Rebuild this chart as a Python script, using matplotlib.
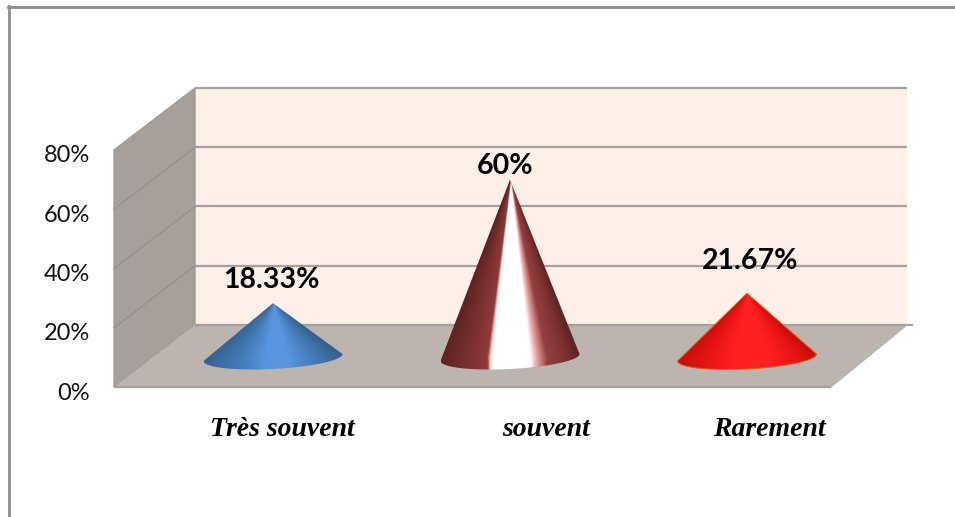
import numpy as np
import matplotlib
matplotlib.use("Agg")
import matplotlib.pyplot as plt
from matplotlib.colors import LinearSegmentedColormap
from matplotlib.patches import PathPatch, Polygon
from matplotlib.path import Path

# ---- chart content ----
categories = ["Très souvent", "souvent", "Rarement"]
values = [18.33, 60, 21.67]
value_labels = ["18.33%", "60%", "21.67%"]
y_ticks = [0, 20, 40, 60, 80]
y_tick_labels = ["0%", "20%", "40%", "60%", "80%"]

W, H = 955, 517
DPI = 100
fig = plt.figure(figsize=(W / DPI, H / DPI), dpi=DPI, facecolor="white")

# Front plane of the 3D box, in pixels
LEFT, RIGHT, BASE, TOP = 114, 831, 387, 150
ax = fig.add_axes([LEFT / W, 1 - BASE / H, (RIGHT - LEFT) / W, (BASE - TOP) / H])
PX_PER_CAT = 237.0
PX_PER_PCT = (BASE - TOP) / 80.0
x0 = -(272 - 40 - LEFT) / PX_PER_CAT
ax.set_xlim(x0, x0 + (RIGHT - LEFT) / PX_PER_CAT)
ax.set_ylim(0, 80)
ax.axis("off")

dx_left = 81 / PX_PER_CAT    # box depth at the left side
dx_right = 76 / PX_PER_CAT   # box depth at the right side
dy_full = 62 / PX_PER_PCT    # box depth, vertical
xl, xr = ax.get_xlim()
xb_l, xb_r = xl + dx_left, xr + dx_right

WALL = "#a79f9a"
FLOOR = "#bdb3af"
BACK = "#feefe7"
GRID = "#a3a09e"

# Back wall, side wall, floor
ax.add_patch(Polygon([(xb_l, dy_full), (xb_r, dy_full), (xb_r, 80 + dy_full), (xb_l, 80 + dy_full)],
                     fc=BACK, ec="none", clip_on=False, zorder=1))
ax.add_patch(Polygon([(xl, 0), (xb_l, dy_full), (xb_l, 80 + dy_full), (xl, 80)],
                     fc=WALL, ec="#a09c99", lw=1.0, clip_on=False, zorder=2))
ax.add_patch(Polygon([(xl, 0), (xr, 0), (xb_r, dy_full), (xb_l, dy_full)],
                     fc=FLOOR, ec="none", clip_on=False, zorder=2))

# Gridlines run along the back wall and slant down the side wall
for t in y_ticks:
    ax.plot([xb_l, xb_r + (6 / PX_PER_CAT if t == 0 else 0)],
            [t + dy_full] * 2, color=GRID, lw=1.6, clip_on=False, zorder=3, solid_capstyle="butt")
    if 0 < t < 80:
        ax.plot([xl, xb_l], [t, t + dy_full], color="#94908d", lw=0.9,
                clip_on=False, zorder=3)
ax.plot([xl, xr], [0, 0], color=GRID, lw=1.6, clip_on=False, zorder=3, solid_capstyle="butt")
ax.plot([xr, xb_r], [0, dy_full], color="#b5b5b5", lw=0.9, clip_on=False, zorder=3)

# Cone shading stops across the cone, from its left edge to its right edge
ramps = [
    [(0, "#34618f"), (0.25, "#4379b5"), (0.45, "#5896de"), (0.6, "#5896de"), (0.8, "#4379b5"), (1, "#34618f")],
    [(0, "#5c2222"), (0.2, "#7c3030"), (0.33, "#8f3a3a"), (0.35, "#f0c4c4"), (0.37, "#ffffff"),
     (0.64, "#ffffff"), (0.68, "#eeaaaa"), (0.76, "#93403f"), (0.9, "#7c3030"), (1, "#5c2222")],
    [(0, "#c80c0c"), (0.2, "#e81414"), (0.4, "#ff2020"), (0.65, "#ff2020"), (0.85, "#e81414"), (1, "#c80c0c")],
]
outlines = ["none", "none", "#d8641c"]

half_width = 69.5 / PX_PER_CAT
semi_minor = 11.5 / PX_PER_PCT
tilt = 3.5 / PX_PER_PCT      # base ellipse leans up to the right
depth_x = 41 / PX_PER_CAT
depth_y = 29.5 / PX_PER_PCT

for i, (value, ramp, outline) in enumerate(zip(values, ramps, outlines)):
    cx = i + depth_x
    base = depth_y
    tip = base + value
    theta = np.linspace(0, np.pi, 60)
    ell_x = cx - half_width * np.cos(theta)
    ell_y = base - semi_minor * np.sin(theta) + tilt * (ell_x - cx) / half_width
    verts = np.column_stack([np.r_[ell_x, cx, ell_x[0]], np.r_[ell_y, tip, ell_y[0]]])
    clip = PathPatch(Path(verts), transform=ax.transData, fc="none", ec=outline, lw=0.7, zorder=5)
    ax.add_patch(clip)

    # Shading bands converge on the tip of the cone
    y_lo = base - semi_minor - tilt
    xs = np.linspace(-1, 1, 400)
    ys = np.linspace(y_lo, tip, 400)
    gx, gy = np.meshgrid(xs, ys)
    frac = np.clip((tip - gy) / value, 0.004, 1.0)
    shade = np.clip((gx / frac + 1) / 2, 0, 1)
    cmap = LinearSegmentedColormap.from_list(f"cone{i}", ramp)
    im = ax.imshow(shade, cmap=cmap, vmin=0, vmax=1, aspect="auto", origin="lower",
                   extent=[cx - half_width, cx + half_width, y_lo, tip],
                   zorder=4, interpolation="bilinear")
    im.set_clip_path(clip)
    ax.set_xlim(xl, xr)
    ax.set_ylim(0, 80)

# Percent labels above the cones
label_pos = [(271, 280), (505, 166), (750, 261)]
for text, (px, py) in zip(value_labels, label_pos):
    fig.text(px / W, 1 - py / H, text, ha="center", va="center", fontsize=20.5,
             fontweight="bold", family="Lato", color="black", zorder=6)

# Value axis labels
for t, lab in zip(y_ticks, y_tick_labels):
    ax.text(xl - 24 / PX_PER_CAT, t - 6 / PX_PER_PCT, lab, ha="right", va="center", fontsize=17,
            family="Lato", color="#111111", clip_on=False)

# Category labels, bold italic serif
cat_pos = [(282, 430), (546, 430), (769, 430)]
for text, (px, py) in zip(categories, cat_pos):
    fig.text(px / W, 1 - py / H, text, ha="center", va="center", fontsize=20,
             style="italic", fontweight="bold", family="Liberation Serif", color="black")

# Outer frame: top and left edges only
fig.add_artist(plt.Line2D([9 / W, 9 / W], [0, 1 - 6 / H], color="#8c8c8c", lw=2.0,
                          transform=fig.transFigure))
fig.add_artist(plt.Line2D([8 / W, 1], [1 - 7 / H, 1 - 7 / H], color="#8c8c8c", lw=2.0,
                          transform=fig.transFigure))

fig.savefig("out.png", dpi=DPI)
